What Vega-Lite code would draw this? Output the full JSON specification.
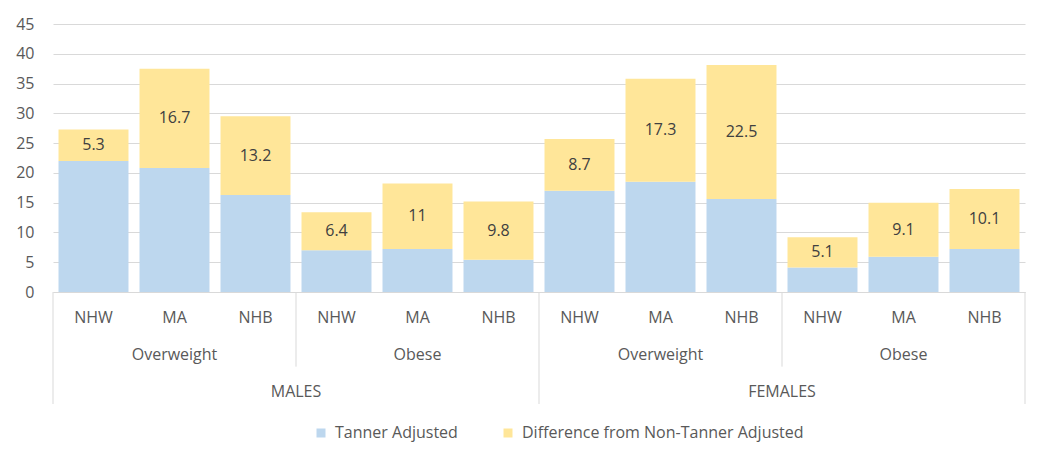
{
  "$schema": "https://vega.github.io/schema/vega-lite/v6.json",
  "background": "white",
  "padding": {"left": 15, "top": 16, "right": 25, "bottom": 5},
  "bounds": "flush",
  "config": {"font": "Open Sans", "view": {"stroke": null}, "concat": {"spacing": 0}},
  "datasets": {
    "bars": [
      {"sex": "MALES", "weight": "Overweight", "race": "NHW", "bar": "M-OW-NHW", "Tanner Adjusted": 22.0, "Difference from Non-Tanner Adjusted": 5.3},
      {"sex": "MALES", "weight": "Overweight", "race": "MA", "bar": "M-OW-MA", "Tanner Adjusted": 20.8, "Difference from Non-Tanner Adjusted": 16.7},
      {"sex": "MALES", "weight": "Overweight", "race": "NHB", "bar": "M-OW-NHB", "Tanner Adjusted": 16.3, "Difference from Non-Tanner Adjusted": 13.2},
      {"sex": "MALES", "weight": "Obese", "race": "NHW", "bar": "M-OB-NHW", "Tanner Adjusted": 7.0, "Difference from Non-Tanner Adjusted": 6.4},
      {"sex": "MALES", "weight": "Obese", "race": "MA", "bar": "M-OB-MA", "Tanner Adjusted": 7.2, "Difference from Non-Tanner Adjusted": 11},
      {"sex": "MALES", "weight": "Obese", "race": "NHB", "bar": "M-OB-NHB", "Tanner Adjusted": 5.4, "Difference from Non-Tanner Adjusted": 9.8},
      {"sex": "FEMALES", "weight": "Overweight", "race": "NHW", "bar": "F-OW-NHW", "Tanner Adjusted": 17.0, "Difference from Non-Tanner Adjusted": 8.7},
      {"sex": "FEMALES", "weight": "Overweight", "race": "MA", "bar": "F-OW-MA", "Tanner Adjusted": 18.5, "Difference from Non-Tanner Adjusted": 17.3},
      {"sex": "FEMALES", "weight": "Overweight", "race": "NHB", "bar": "F-OW-NHB", "Tanner Adjusted": 15.6, "Difference from Non-Tanner Adjusted": 22.5},
      {"sex": "FEMALES", "weight": "Obese", "race": "NHW", "bar": "F-OB-NHW", "Tanner Adjusted": 4.1, "Difference from Non-Tanner Adjusted": 5.1},
      {"sex": "FEMALES", "weight": "Obese", "race": "MA", "bar": "F-OB-MA", "Tanner Adjusted": 5.9, "Difference from Non-Tanner Adjusted": 9.1},
      {"sex": "FEMALES", "weight": "Obese", "race": "NHB", "bar": "F-OB-NHB", "Tanner Adjusted": 7.2, "Difference from Non-Tanner Adjusted": 10.1}
    ],
    "labels": [
      {"label": "Overweight", "bar": "M-OW-MA", "level": "weight"},
      {"label": "Obese", "bar": "M-OB-MA", "level": "weight"},
      {"label": "Overweight", "bar": "F-OW-MA", "level": "weight"},
      {"label": "Obese", "bar": "F-OB-MA", "level": "weight"}
    ],
    "sexLabels": [
      {"label": "MALES", "bar": "M-OB-NHW", "level": "sex"},
      {"label": "FEMALES", "bar": "F-OB-NHW", "level": "sex"}
    ],
    "dividers": [
      {"bar": "M-OW-NHW", "from": "race", "to": "sex"},
      {"bar": "M-OB-NHW", "from": "race", "to": "weight"},
      {"bar": "F-OW-NHW", "from": "race", "to": "sex"},
      {"bar": "F-OB-NHW", "from": "race", "to": "weight"}
    ],
    "edge": [
      {"bar": "F-OB-NHB", "from": "race", "to": "sex"}
    ]
  },
  "vconcat": [
    {
      "width": 972,
      "height": 268,
      "data": {"name": "bars"},
      "transform": [
        {"fold": ["Tanner Adjusted", "Difference from Non-Tanner Adjusted"], "as": ["series", "value"]},
        {"stack": "value", "groupby": ["bar"], "sort": [{"field": "series", "order": "descending"}], "as": ["y0", "y1"]}
      ],
      "encoding": {
        "x": {
          "field": "bar", "type": "nominal", "sort": null,
          "scale": {"domain": ["M-OW-NHW","M-OW-MA","M-OW-NHB","M-OB-NHW","M-OB-MA","M-OB-NHB","F-OW-NHW","F-OW-MA","F-OW-NHB","F-OB-NHW","F-OB-MA","F-OB-NHB"], "paddingInner": 0, "paddingOuter": 0},
          "axis": {"labels": false, "ticks": false, "title": null, "domainColor": "#d9d9d9", "domainWidth": 1, "minExtent": 0, "maxExtent": 0, "labelPadding": 0}
        }
      },
      "layer": [
        {
          "mark": {"type": "bar", "width": {"band": 0.864}},
          "encoding": {
            "y": {
              "field": "y0", "type": "quantitative",
              "scale": {"domain": [0, 45], "nice": false},
              "axis": {"values": [0,5,10,15,20,25,30,35,40,45], "labelOverlap": false, "domain": false, "ticks": false, "labelPadding": 19, "labelFontSize": 16, "labelColor": "#595959", "gridColor": "#d9d9d9", "title": null, "minExtent": 38, "maxExtent": 38}
            },
            "y2": {"field": "y1"},
            "color": {
              "field": "series", "type": "nominal",
              "scale": {"domain": ["Tanner Adjusted", "Difference from Non-Tanner Adjusted"], "range": ["#BDD7EE", "#FFE699"]},
              "legend": {"orient": "none", "legendX": 260, "legendY": 401, "direction": "horizontal", "title": null, "symbolType": "square", "symbolSize": 81, "symbolStrokeWidth": 0, "labelFontSize": 16, "labelColor": "#595959", "labelLimit": 500, "columnPadding": 42, "labelOffset": 6}
            }
          }
        },
        {
          "transform": [
            {"filter": "datum.series === 'Difference from Non-Tanner Adjusted'"},
            {"fold": ["y0", "y1"], "as": ["end", "pos"]}
          ],
          "mark": {"type": "text", "fontSize": 16, "color": "#404040"},
          "encoding": {
            "y": {
              "aggregate": "mean", "field": "pos", "type": "quantitative",
              "axis": {"values": [0,5,10,15,20,25,30,35,40,45], "labelOverlap": false, "domain": false, "ticks": false, "labelPadding": 19, "labelFontSize": 16, "labelColor": "#595959", "gridColor": "#d9d9d9", "title": null, "minExtent": 38, "maxExtent": 38}
            },
            "text": {"field": "value", "type": "quantitative"}
          }
        }
      ]
    },
    {
      "width": 972,
      "height": 112,
      "encoding": {
        "x": {
          "field": "bar", "type": "nominal", "sort": null,
          "scale": {"domain": ["M-OW-NHW","M-OW-MA","M-OW-NHB","M-OB-NHW","M-OB-MA","M-OB-NHB","F-OW-NHW","F-OW-MA","F-OW-NHB","F-OB-NHW","F-OB-MA","F-OB-NHB"], "paddingInner": 0, "paddingOuter": 0},
          "axis": null
        }
      },
      "layer": [
        {
          "data": {"name": "bars"},
          "mark": {"type": "text", "fontSize": 16, "color": "#595959", "dy": 7},
          "encoding": {
            "y": {"datum": "race", "type": "nominal", "scale": {"domain": ["race", "weight", "sex"], "paddingInner": 0, "paddingOuter": 0}, "axis": null},
            "text": {"field": "race"}
          }
        },
        {
          "data": {"name": "labels"},
          "mark": {"type": "text", "fontSize": 16, "color": "#595959", "dy": 7},
          "encoding": {
            "y": {"field": "level", "type": "nominal"},
            "text": {"field": "label"}
          }
        },
        {
          "data": {"name": "sexLabels"},
          "mark": {"type": "text", "fontSize": 16, "color": "#595959", "dy": 7},
          "encoding": {
            "x": {"field": "bar", "type": "nominal", "sort": null, "bandPosition": 0},
            "y": {"field": "level", "type": "nominal"},
            "text": {"field": "label"}
          }
        },
        {
          "data": {"name": "dividers"},
          "mark": {"type": "rule", "color": "#d9d9d9", "strokeWidth": 1},
          "encoding": {
            "x": {"field": "bar", "type": "nominal", "sort": null, "bandPosition": 0},
            "y": {"field": "from", "type": "nominal", "bandPosition": 0},
            "y2": {"field": "to", "bandPosition": 1}
          }
        },
        {
          "data": {"name": "edge"},
          "mark": {"type": "rule", "color": "#d9d9d9", "strokeWidth": 1},
          "encoding": {
            "x": {"field": "bar", "type": "nominal", "sort": null, "bandPosition": 1},
            "y": {"field": "from", "type": "nominal", "bandPosition": 0},
            "y2": {"field": "to", "bandPosition": 1}
          }
        }
      ]
    }
  ]
}
